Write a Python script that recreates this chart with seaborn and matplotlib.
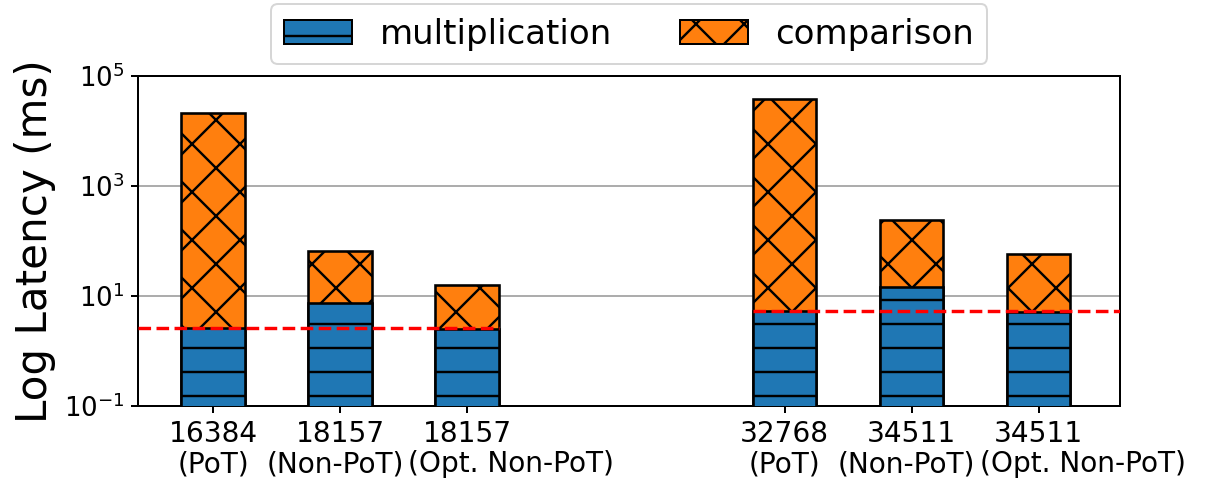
"""
Latency breakdown: multiplication vs comparison (log scale)
"""

import numpy as np
import pandas as pd
import matplotlib
matplotlib.use('Agg')
import matplotlib.pyplot as plt
from matplotlib.patches import Patch
import seaborn as sns

# x positions leave a gap between the two ring sizes
POSITIONS = [0, 1, 2, 4.5, 5.5, 6.5]
RING_SIZES = ['16384', '18157', '18157', '32768', '34511', '34511']
VARIANTS = ['(PoT)', '(Non-PoT)', '(Opt. Non-PoT)', '(PoT)', '(Non-PoT)', '(Opt. Non-PoT)']
MULTIPLICATION = [2.65, 7.4, 2.55, 5.3, 14.8, 5.2]
COMPARISON = [21000, 59, 13.6, 38000, 229, 54]
# index ranges of the two groups (red line = PoT multiplication latency)
GROUPS = [(0, 2), (3, 5)]

MULT_COLOR = '#1f77b4'
COMP_COLOR = '#ff7f0e'

sns.set_style('ticks')
plt.rcParams['font.family'] = ['DejaVu Sans']
plt.rcParams['hatch.linewidth'] = 1.2
for key in ['text.color', 'axes.labelcolor', 'xtick.color', 'ytick.color', 'axes.edgecolor']:
    plt.rcParams[key] = 'black'

df = pd.DataFrame({
    'pos': POSITIONS,
    'mult': MULTIPLICATION,
    'comp': COMPARISON,
})
df['total'] = df['mult'] + df['comp']

fig = plt.figure(figsize=(1210 / 144, 482 / 144), dpi=144)
ax = fig.add_axes([138 / 1210, 1 - 406 / 482, (1120 - 138) / 1210, (406 - 76) / 482])

# total bar first (comparison on top), multiplication drawn over it
sns.barplot(data=df, x='pos', y='total', native_scale=True, width=0.5,
            color=COMP_COLOR, saturation=1, edgecolor='black', linewidth=1.3,
            hatch='x', ax=ax, zorder=2)
sns.barplot(data=df, x='pos', y='mult', native_scale=True, width=0.5,
            color=MULT_COLOR, saturation=1, edgecolor='black', linewidth=1.3,
            hatch='-', ax=ax, zorder=3)

ax.set_yscale('log')
ax.set_ylim(0.1, 1e5)
ax.set_yticks([1e-1, 1e1, 1e3, 1e5])
ax.yaxis.set_minor_locator(matplotlib.ticker.NullLocator())
ax.set_xlim(-0.59, 7.14)
ax.set_xticks(POSITIONS)
ax.set_xticklabels(RING_SIZES)
ax.tick_params(axis='both', labelsize=13, width=1.0, length=3.5)
ax.tick_params(axis='x', labelsize=14)

# second line of the x labels; the "Opt." ones sit right of their tick
x_shift = {'(PoT)': 0, '(Non-PoT)': -2.5, '(Opt. Non-PoT)': 22}
for pos, variant in zip(POSITIONS, VARIANTS):
    ax.annotate(variant, xy=(pos, 0), xycoords=('data', 'axes fraction'),
                xytext=(x_shift[variant], -33), textcoords='offset points',
                ha='center', va='baseline', fontsize=14)

ax.yaxis.grid(True, color='#999999', linewidth=0.8)
ax.set_axisbelow(True)

# red dashed baseline at PoT multiplication latency
xlim = ax.get_xlim()
for i0, i1 in GROUPS:
    x_start = POSITIONS[i0] - 0.25 if i0 > 0 else xlim[0]
    x_end = POSITIONS[i1] + 0.25 if i1 < len(POSITIONS) - 1 else xlim[1]
    ax.hlines(MULTIPLICATION[i0], x_start, x_end, colors='red',
              linestyles='--', linewidth=1.7, zorder=4)

for spine in ax.spines.values():
    spine.set_linewidth(1.0)

ax.set_xlabel('')
ax.set_ylabel('Log Latency (ms)', fontsize=21)

handles = [Patch(facecolor=MULT_COLOR, edgecolor='black', hatch='-', label='multiplication'),
           Patch(facecolor=COMP_COLOR, edgecolor='black', hatch='x', label='comparison')]
ax.legend(handles=handles, loc='lower center', bbox_to_anchor=(0.5, 1.036),
          ncol=2, fontsize=17, borderaxespad=0, frameon=True)

plt.savefig('out.png', dpi=144)
plt.close()
